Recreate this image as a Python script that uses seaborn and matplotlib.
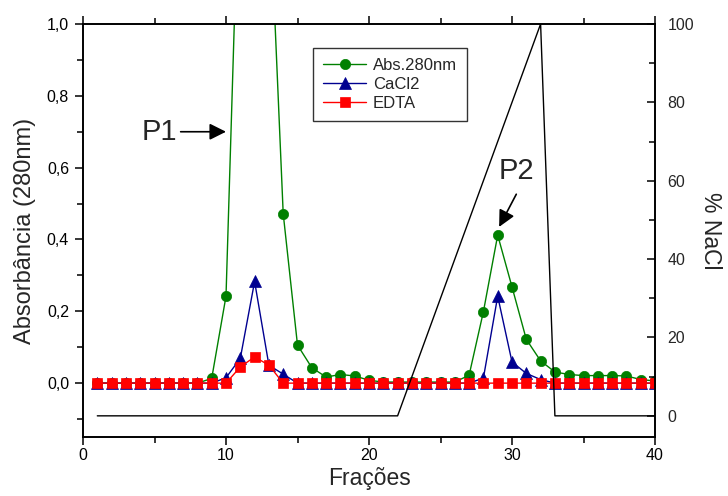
import numpy as np
import matplotlib
matplotlib.use("Agg")
import matplotlib.pyplot as plt
import seaborn as sns
from matplotlib.ticker import FixedLocator, MultipleLocator

# Frações coletadas
fracoes = list(range(1, 41))

# Absorbância a 280 nm (picos 11-13 saem do gráfico)
abs_280 = [0.0, 0.0, 0.0, 0.0, 0.0, 0.0, 0.0, 0.0, 0.013, 0.242,
           1.55, 1.80, 1.40, 0.472, 0.106, 0.043, 0.017, 0.024, 0.020, 0.008,
           0.003, 0.003, 0.003, 0.003, 0.003, 0.003, 0.022, 0.199, 0.412, 0.268,
           0.122, 0.062, 0.031, 0.024, 0.021, 0.021, 0.021, 0.020, 0.010, 0.006]

cacl2 = [0.0, 0.0, 0.0, 0.0, 0.0, 0.0, 0.0, 0.0, 0.0, 0.015,
         0.069, 0.283, 0.050, 0.025, 0.0, 0.0, 0.0, 0.0, 0.0, 0.0,
         0.0, 0.0, 0.0, 0.0, 0.0, 0.0, 0.0, 0.014, 0.242, 0.059,
         0.027, 0.010, 0.0, 0.0, 0.0, 0.0, 0.0, 0.0, 0.0, 0.0]

edta = [0.0, 0.0, 0.0, 0.0, 0.0, 0.0, 0.0, 0.0, 0.0, 0.0,
        0.045, 0.073, 0.050, 0.0, 0.0, 0.0, 0.0, 0.0, 0.0, 0.0,
        0.0, 0.0, 0.0, 0.0, 0.0, 0.0, 0.0, 0.0, 0.0, 0.0,
        0.0, 0.0, 0.0, 0.0, 0.0, 0.0, 0.0, 0.0, 0.0, 0.0]

# Gradiente de NaCl (vértices)
nacl_fracoes = [1, 22, 32, 33, 40]
nacl_pct = [0, 0, 100, 0, 0]

# Ticks
abs_ticks = [0.0, 0.2, 0.4, 0.6, 0.8, 1.0]
abs_labels = ["0,0", "0,2", "0,4", "0,6", "0,8", "1,0"]
nacl_ticks = [0, 20, 40, 60, 80, 100]
x_ticks = [0, 10, 20, 30, 40]

sns.set_style("ticks")
plt.rcParams["font.family"] = ["Liberation Sans", "DejaVu Sans"]

fig = plt.figure(figsize=(7.28, 4.96), dpi=100)
ax = fig.add_axes([83 / 728, 1 - 437 / 496, 572 / 728, 413 / 496])

verde = "#008000"
azul = "#000090"
vermelho = "#ff0000"

sns.lineplot(x=fracoes, y=abs_280, ax=ax, color=verde, lw=1.0, marker="o",
             markersize=7.4, markeredgecolor=verde, markeredgewidth=0.5,
             label="Abs.280nm")
sns.lineplot(x=fracoes, y=cacl2, ax=ax, color=azul, lw=1.0, marker="^",
             markersize=8.4, markeredgecolor=azul, markeredgewidth=0.5,
             label="CaCl2")
sns.lineplot(x=fracoes, y=edta, ax=ax, color=vermelho, lw=1.0, marker="s",
             markersize=7.6, markeredgecolor=vermelho, markeredgewidth=0.5,
             label="EDTA")

ax.set_xlim(0, 40)
ax.set_ylim(-0.15, 1.0)
ax.xaxis.set_major_locator(FixedLocator(x_ticks))
ax.xaxis.set_minor_locator(MultipleLocator(5))
ax.yaxis.set_major_locator(FixedLocator(abs_ticks))
ax.set_yticklabels(abs_labels)
ax.yaxis.set_minor_locator(FixedLocator([-0.1, 0.1, 0.3, 0.5, 0.7, 0.9]))

ax.tick_params(axis="both", which="major", labelsize=11.5, length=6, width=1.1,
               color="black", labelcolor="black")
ax.tick_params(axis="both", which="minor", length=4, width=1.1, color="black")
ax.tick_params(axis="y", which="both", direction="out", pad=4)
ax.tick_params(axis="x", which="both", direction="out", pad=2, top=True)

for s in ax.spines.values():
    s.set_linewidth(1.2)
    s.set_color("black")

ax.set_xlabel("Frações", fontsize=16.5, labelpad=3)
ax.set_ylabel("Absorbância (280nm)", fontsize=17, labelpad=8)

leg = ax.legend(loc="upper left", bbox_to_anchor=(0.402, 0.942),
                borderaxespad=0, fancybox=False, frameon=True, fontsize=12,
                handlelength=2.6, handletextpad=0.4, labelspacing=0.25,
                borderpad=0.6)
leg.get_frame().set_edgecolor("black")
leg.get_frame().set_linewidth(1.0)

# Eixo secundário: % NaCl
ax2 = ax.twinx()
sns.lineplot(x=nacl_fracoes, y=nacl_pct, ax=ax2, color="black", lw=1.0,
             legend=False)
ax2.set_ylim(-5.4, 100)
ax2.yaxis.set_major_locator(FixedLocator(nacl_ticks))
ax2.yaxis.set_minor_locator(MultipleLocator(10))
ax2.tick_params(axis="y", which="major", direction="in", length=6, width=1.1,
                labelsize=11.5, pad=9, color="black")
ax2.tick_params(axis="y", which="minor", direction="in", length=4, width=1.1,
                color="black")
ax2.set_ylabel("% NaCl", fontsize=16.5, rotation=270, labelpad=20)
for s in ax2.spines.values():
    s.set_linewidth(1.2)
    s.set_color("black")

# Setas P1 e P2
ax.annotate("P1", xy=(10.0, 0.70), xytext=(6.6, 0.70), fontsize=21,
            ha="right", va="center",
            arrowprops=dict(arrowstyle="-|>", color="black", lw=1.2,
                            mutation_scale=25, shrinkA=0, shrinkB=0))
ax.annotate("", xy=(29.1, 0.435), xytext=(30.3, 0.526),
            arrowprops=dict(arrowstyle="-|>", color="black", lw=1.2,
                            mutation_scale=25, shrinkA=0, shrinkB=0))
ax.text(30.3, 0.59, "P2", fontsize=21, ha="center", va="center")

fig.savefig("out.png", dpi=100)
